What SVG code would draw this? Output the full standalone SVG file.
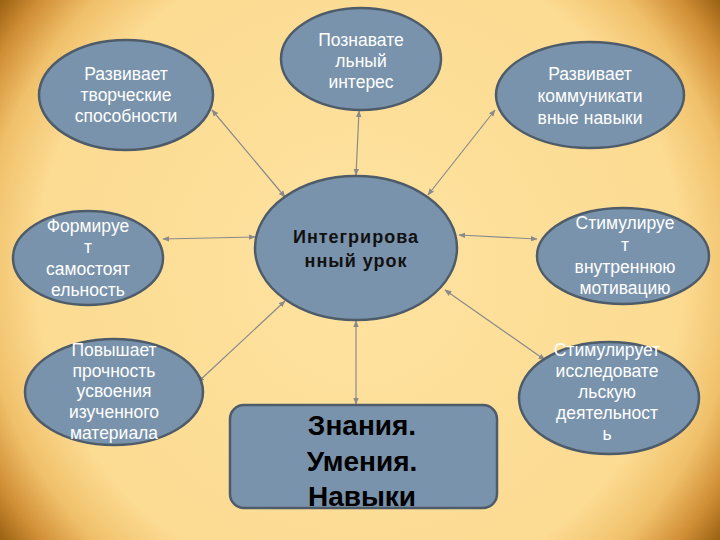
<svg xmlns="http://www.w3.org/2000/svg" width="720" height="540" viewBox="0 0 720 540">
<defs>
<radialGradient id="bg" gradientUnits="userSpaceOnUse" cx="360" cy="270" r="450">
<stop offset="0" stop-color="#FEE3A0"/>
<stop offset="0.72" stop-color="#FCDB92"/>
<stop offset="0.84" stop-color="#F0C06A"/>
<stop offset="0.93" stop-color="#D08E35"/>
<stop offset="1" stop-color="#9A6112"/>
</radialGradient>
<marker id="ah" viewBox="0 0 10 10" refX="9" refY="5" markerWidth="7" markerHeight="7" orient="auto-start-reverse" markerUnits="userSpaceOnUse">
<path d="M0,1 L10,5 L0,9 Z" fill="#8a8a8a"/>
</marker>
<style>
.node{fill:#7A93AC;stroke:#4E5C6A;stroke-width:2.5}
.t{font-family:"Liberation Sans",Arial,sans-serif;font-size:17.5px;fill:#ffffff;text-anchor:middle}
.c{font-family:"Liberation Sans",Arial,sans-serif;font-size:18px;font-weight:bold;fill:#111;text-anchor:middle;letter-spacing:1px}
.b{font-family:"Liberation Sans",Arial,sans-serif;font-size:28px;font-weight:bold;fill:#000;text-anchor:middle}
.ln{stroke:#8a8a8a;stroke-width:1.2;fill:none;marker-start:url(#ah);marker-end:url(#ah)}
</style>
</defs>
<rect width="720" height="540" fill="url(#bg)"/>
<g id="connectors">
<line class="ln" x1="285" y1="197" x2="212" y2="110"/>
<line class="ln" x1="356" y1="175" x2="359" y2="111"/>
<line class="ln" x1="428" y1="195" x2="495" y2="110"/>
<line class="ln" x1="255" y1="237" x2="163" y2="239"/>
<line class="ln" x1="459" y1="235" x2="537" y2="239"/>
<line class="ln" x1="285" y1="301" x2="198" y2="382"/>
<line class="ln" x1="356" y1="321" x2="356" y2="404"/>
<line class="ln" x1="445" y1="290" x2="545" y2="360"/>
</g>
<g id="n-top">
<ellipse class="node" cx="361" cy="59" rx="80" ry="51"/>
<text class="t" x="361" y="46">Познавате</text>
<text class="t" x="361" y="67">льный</text>
<text class="t" x="361" y="88">интерес</text>
</g>
<g id="n-topleft">
<ellipse class="node" cx="126" cy="95" rx="87" ry="55"/>
<text class="t" x="126" y="80">Развивает</text>
<text class="t" x="126" y="101">творческие</text>
<text class="t" x="126" y="122">способности</text>
</g>
<g id="n-topright">
<ellipse class="node" cx="590" cy="95" rx="94" ry="53"/>
<text class="t" x="590" y="80">Развивает</text>
<text class="t" x="590" y="102">коммуникати</text>
<text class="t" x="590" y="124">вные навыки</text>
</g>
<g id="n-center">
<ellipse class="node" cx="356" cy="248" rx="101" ry="72"/>
<text class="c" x="356" y="243">Интегрирова</text>
<text class="c" x="356" y="267">нный урок</text>
</g>
<g id="n-left">
<ellipse class="node" cx="88" cy="258" rx="75" ry="47"/>
<text class="t" x="88" y="232">Формируе</text>
<text class="t" x="88" y="253">т</text>
<text class="t" x="88" y="275">самостоят</text>
<text class="t" x="88" y="296">ельность</text>
</g>
<g id="n-right">
<ellipse class="node" cx="623" cy="256" rx="86" ry="48"/>
<text class="t" x="625" y="229">Стимулируе</text>
<text class="t" x="625" y="251">т</text>
<text class="t" x="625" y="273">внутреннюю</text>
<text class="t" x="625" y="294">мотивацию</text>
</g>
<g id="n-bottomleft">
<ellipse class="node" cx="114" cy="392" rx="89" ry="53"/>
<text class="t" x="114" y="356">Повышает</text>
<text class="t" x="114" y="377">прочность</text>
<text class="t" x="114" y="397">усвоения</text>
<text class="t" x="114" y="418">изученного</text>
<text class="t" x="114" y="439">материала</text>
</g>
<g id="n-bottomright">
<ellipse class="node" cx="609" cy="398" rx="90" ry="56"/>
<text class="t" x="607" y="356">Стимулирует</text>
<text class="t" x="607" y="377">исследовате</text>
<text class="t" x="607" y="398">льскую</text>
<text class="t" x="607" y="419">деятельност</text>
<text class="t" x="607" y="440">ь</text>
</g>
<g id="n-result">
<rect class="node" x="230" y="405" width="267" height="103" rx="14" ry="14"/>
<text class="b" x="362" y="435">Знания.</text>
<text class="b" x="362" y="471">Умения.</text>
<text class="b" x="362" y="506">Навыки</text>
</g>
</svg>
